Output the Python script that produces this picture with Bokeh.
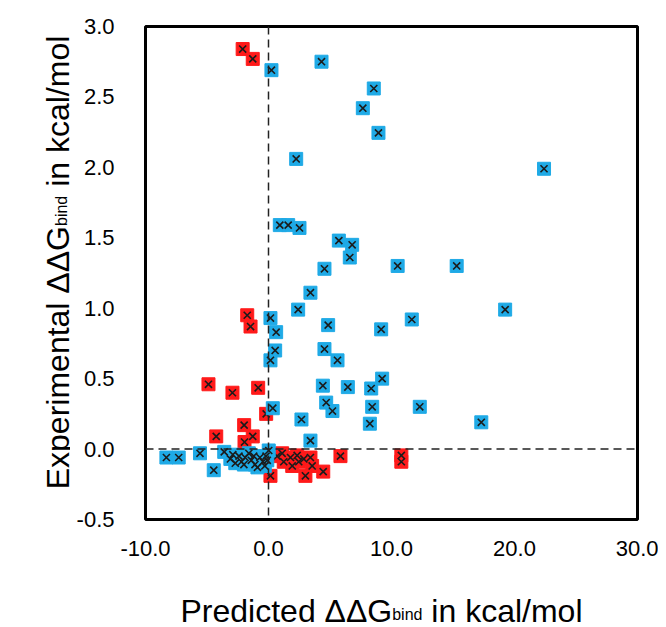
import math
from bokeh.plotting import figure
from bokeh.layouts import row, column
from bokeh.models import Label, Span, FixedTicker, NumeralTickFormatter, Range1d
from bokeh.embed import file_html
from bokeh.resources import INLINE

# ---------------- data ----------------
blue_x = [0.24, 4.31, 8.56, 7.67, 8.94, 2.25, 0.92, 1.6, 2.52, 5.72, 6.8, 6.61,
          4.55, 10.5, 22.4, 15.3, 11.65, 19.24, 12.3, 17.3, 3.41, 2.41, 0.16,
          0.62, 4.85, 9.16, 4.55, 0.54, 0.16, 5.61, 4.42, 6.45, 8.35, 9.24,
          4.69, 5.2, 8.43, 8.24, 0.35, 2.68, 3.41,
          -8.3, -7.3, -5.57, -4.45, -3.6,
          -3.1, -2.9, -2.7, -2.4, -2.2, -2.0, -1.9, -1.6, -1.4, -1.2, -1.1,
          -0.9, -0.7, -0.45, -0.3, -0.2, -0.1, 0.02]
blue_y = [2.69, 2.75, 2.56, 2.42, 2.245, 2.06, 1.59, 1.59, 1.57, 1.48, 1.45, 1.36,
          1.28, 1.30, 1.99, 1.30, 0.92, 0.99, 0.30, 0.19, 1.11, 0.99, 0.93,
          0.83, 0.88, 0.85, 0.71, 0.70, 0.63, 0.63, 0.45, 0.44, 0.43, 0.50,
          0.33, 0.27, 0.30, 0.18, 0.29, 0.21, 0.06,
          -0.06, -0.06, -0.03, -0.15, -0.02,
          -0.07, -0.04, -0.10, -0.05, -0.09, -0.11, -0.06, -0.03, -0.08, -0.05, -0.11,
          -0.13, -0.06, -0.09, -0.12, -0.05, -0.08, -0.01]

red_x = [-2.1, -1.28, -1.73, -1.46, -4.88, -2.93, -0.84, -0.19, -4.25, -1.98,
         -1.28, -1.95, 0.16, 0.7, 1.11, 1.24, 1.79, 1.93, 2.33, 2.46, 2.87, 3.41,
         3.55, 3.0, 4.45, 5.85, 10.8, 10.8]
red_y = [2.84, 2.77, 0.95, 0.87, 0.46, 0.40, 0.435, 0.25, 0.09, 0.17,
         0.09, 0.05, -0.19, -0.05, -0.03, -0.09, -0.06, -0.12, -0.045, -0.09, -0.07, -0.06,
         -0.12, -0.19, -0.16, -0.05, -0.045, -0.09]

x_ticks = [-10, 0, 10, 20, 30]
y_ticks = [-0.5, 0.0, 0.5, 1.0, 1.5, 2.0, 2.5, 3.0]

# (text, kind, gap before in em of the main size)
x_label_parts = [("Predicted \u0394\u0394G", "main", 0), ("bind", "sub", 0), ("in kcal/mol", "main", 0.278)]
y_label_parts = [("Experimental \u0394\u0394G", "main", 0), ("bind", "sub", 0), ("in kcal/mol", "main", 0.278)]

# ---------------- style ----------------
FONT = "Liberation Sans"
BLUE = "#1faae6"
RED = "#ff1a1a"
XCOL = "#1b1b1b"
MAIN_SIZE = 32
SUB_SIZE = 16
SUB_DROP = 4

LW = 70             # width of the y-title strip
TOTAL_W, TOTAL_H = 658, 627
MAIN_W = TOTAL_W - LW
FL, FR, FT = 145 - LW, TOTAL_W - 637, 26
FW = MAIN_W - FL - FR
FH = 493
FB = 42
MAIN_H = FT + FH + FB
BOT_H = TOTAL_H - MAIN_H

p = figure(width=MAIN_W, height=MAIN_H, x_range=Range1d(-10, 30), y_range=Range1d(-0.5, 3.0),
           output_backend="svg", toolbar_location=None,
           min_border_left=FL, min_border_right=FR, min_border_top=FT, min_border_bottom=FB)
p.frame_align = False
p.grid.visible = False
p.outline_line_color = "black"
p.outline_line_width = 3
p.background_fill_color = "white"
p.border_fill_color = "white"

for ax in (p.xaxis, p.yaxis):
    ax.axis_line_color = None
    ax.major_tick_line_color = None
    ax.minor_tick_line_color = None
    ax.major_tick_out = 0
    ax.major_tick_in = 0
    ax.major_label_text_font = FONT
    ax.major_label_text_font_size = "22px"
    ax.major_label_text_color = "black"
    ax.formatter = NumeralTickFormatter(format="0.0")

p.xaxis.ticker = FixedTicker(ticks=x_ticks)
p.yaxis.ticker = FixedTicker(ticks=y_ticks)
p.xaxis.major_label_standoff = 21
p.yaxis.major_label_standoff = 31

p.add_layout(Span(location=0, dimension="height", line_color="#222222",
                  line_width=1.5, line_dash="8 5"))
p.add_layout(Span(location=0, dimension="width", line_color="#222222",
                  line_width=1.5, line_dash="8 5"))

# red first, blue on top
p.scatter(red_x, red_y, marker="square", size=13, fill_color=RED, line_color=RED, line_width=1)
p.scatter(red_x, red_y, marker="x", size=10, line_color=XCOL, line_width=1.6)
p.scatter(blue_x, blue_y, marker="square", size=13, fill_color=BLUE, line_color=BLUE, line_width=1)
p.scatter(blue_x, blue_y, marker="x", size=10, line_color=XCOL, line_width=1.6)


def blank(w, h):
    f = figure(width=w, height=h, x_range=Range1d(0, 1), y_range=Range1d(0, 1),
               output_backend="svg", toolbar_location=None,
               min_border=0, min_border_left=0, min_border_right=0,
               min_border_top=0, min_border_bottom=0)
    f.frame_align = False
    f.axis.visible = False
    f.grid.visible = False
    f.outline_line_color = None
    f.background_fill_color = "white"
    f.border_fill_color = "white"
    return f


left = blank(LW, MAIN_H)
bottom = blank(TOTAL_W, BOT_H)

# ---------------- axis titles with subscript ----------------
WID = {"P": .667, "r": .333, "e": .556, "d": .556, "i": .222, "c": .5, "t": .278,
       " ": .278, "\u0394": .668, "G": .778, "b": .556, "n": .556, "k": .5, "a": .556,
       "l": .222, "/": .278, "m": .833, "o": .556, "E": .667, "x": .5, "p": .556}


def tw(s, size):
    return sum(WID.get(ch, .556) for ch in s) * size


def place(fig, parts, horizontal, center, base):
    sizes = [MAIN_SIZE if k == "main" else SUB_SIZE for _, k, _ in parts]
    total = sum(tw(t, s) + g * MAIN_SIZE for (t, _, g), s in zip(parts, sizes))
    pos = center - total / 2
    for (t, k, g), s in zip(parts, sizes):
        pos += g * MAIN_SIZE
        drop = SUB_DROP if k == "sub" else 0
        if horizontal:
            lab = Label(x=pos, y=base - drop, x_units="screen", y_units="screen", text=t,
                        text_font=FONT, text_font_size=f"{s}px", text_color="black",
                        text_align="left", text_baseline="alphabetic")
        else:
            lab = Label(x=base + drop, y=pos, x_units="screen", y_units="screen", text=t,
                        angle=math.pi / 2, text_font=FONT, text_font_size=f"{s}px",
                        text_color="black", text_align="left", text_baseline="alphabetic")
        fig.add_layout(lab)
        pos += tw(t, s)


# x title: centre x=381 of the page, baseline near y=619 (strip sits ~9px lower than nominal)
place(bottom, x_label_parts, True, 381, TOTAL_H - 619 + 9)
# y title: centre y=262 of the page, baseline at x=57
place(left, y_label_parts, False, MAIN_H - 262, 57)

layout = column(row(left, p), bottom)
open("out.html", "w").write(file_html(layout, INLINE))
